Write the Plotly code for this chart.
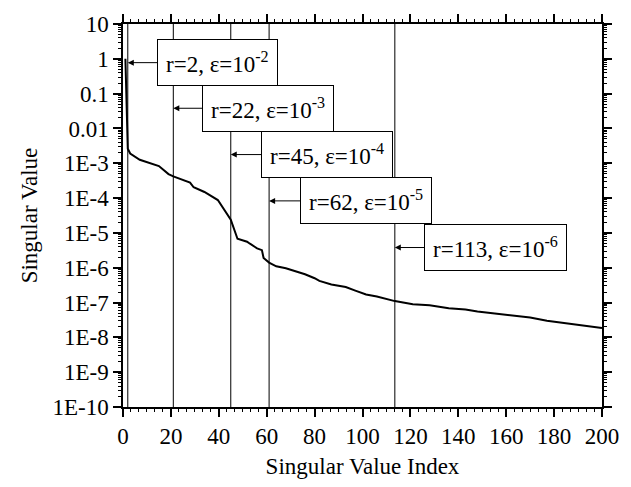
import plotly.graph_objects as go

# Singular value curve (index, value)
sv_index = [1, 2, 3, 7, 15, 19, 21, 28, 29.5, 34, 39.6, 45, 47.8, 51.8, 53, 56, 58, 58.7,
            61, 64, 68, 76, 80, 82, 87, 93, 97, 101.5, 106, 113.5, 121, 128, 136, 143,
            148, 159, 170, 177, 190.6, 200]
sv_value = [1.0, 2.6e-3, 1.9e-3, 1.26e-3, 8.3e-4, 4.9e-4, 4.2e-4, 2.8e-4, 2.05e-4, 1.5e-4,
            8.8e-5, 2.4e-5, 6.8e-6, 5.6e-6, 4.9e-6, 3.6e-6, 3.2e-6, 1.9e-6,
            1.4e-6, 1.1e-6, 9.6e-7, 6.5e-7, 5.0e-7, 4.2e-7, 3.3e-7, 2.8e-7, 2.2e-7, 1.7e-7,
            1.5e-7, 1.1e-7, 9.0e-8, 8.3e-8, 6.9e-8, 6.3e-8, 5.5e-8, 4.4e-8, 3.7e-8, 3.0e-8,
            2.2e-8, 1.85e-8]

# rank markers (vertical lines) and labels
rank_pos = [2, 21, 45, 61, 113.5]
rank_labels = ["r=2, ε=10<sup>-2</sup>", "r=22, ε=10<sup>-3</sup>", "r=45, ε=10<sup>-4</sup>",
               "r=62, ε=10<sup>-5</sup>", "r=113, ε=10<sup>-6</sup>"]
arrow_logy = [-0.11, -1.42, -2.75, -4.08, -5.42]
label_offset = [90, 95, 96, 97, 101]

# tick labels
x_tickvals = list(range(0, 201, 20))
y_tickvals = [10, 1, 0.1, 0.01, 1e-3, 1e-4, 1e-5, 1e-6, 1e-7, 1e-8, 1e-9, 1e-10]
y_ticktext = ["10", "1", "0.1", "0.01", "1E-3", "1E-4", "1E-5", "1E-6", "1E-7", "1E-8",
              "1E-9", "1E-10"]
# minor tick positions (axis decoration)
x_minor = [20 * i + 20 * k / 6 for i in range(10) for k in range(1, 6)]
y_minor = [k * 10.0 ** e for e in range(-10, 1) for k in range(2, 10)]

FONT = "Liberation Serif, Times New Roman, Times, serif"
TF = dict(family=FONT, size=23, color="black")

fig = go.Figure()
fig.add_trace(go.Scatter(x=sv_index, y=sv_value, mode="lines",
                         line=dict(color="black", width=2), showlegend=False,
                         hoverinfo="skip"))

for xp in rank_pos:
    fig.add_shape(type="line", xref="x", yref="paper", x0=xp, x1=xp, y0=0, y1=1,
                  line=dict(color="black", width=1))

for xp, lab, ly, off in zip(rank_pos, rank_labels, arrow_logy, label_offset):
    fig.add_annotation(x=xp, y=ly, xref="x", yref="y", text=lab, showarrow=True,
                       ax=off, ay=0, axref="pixel", ayref="pixel",
                       arrowhead=2, arrowsize=1.2, arrowwidth=1, arrowcolor="black",
                       font=TF, bordercolor="black", borderwidth=1, borderpad=8,
                       bgcolor="white")


def minor_x(side):
    return dict(range=[0, 200], tickvals=x_minor, ticks="outside", ticklen=4,
                tickwidth=1, tickcolor="black", mirror="ticks", showline=False,
                showgrid=False, zeroline=False, showticklabels=False,
                overlaying="x", anchor="y", side=side)


def minor_y(side):
    return dict(type="log", range=[-10, 1], tickvals=y_minor, ticks="outside", ticklen=4,
                tickwidth=1, tickcolor="black", mirror="ticks", showline=False,
                showgrid=False, zeroline=False, showticklabels=False,
                overlaying="y", anchor="x", side=side)


fig.update_layout(
    xaxis=dict(range=[0, 200], tickvals=x_tickvals, ticks="outside", ticklen=8,
               tickwidth=1.5, tickcolor="black", showline=True, linecolor="black",
               linewidth=1.5, mirror="ticks", showgrid=False, zeroline=False,
               tickfont=TF,
               title=dict(text="Singular Value Index", font=TF, standoff=10)),
    yaxis=dict(type="log", range=[-10, 1], tickvals=y_tickvals, ticktext=y_ticktext,
               ticks="outside", ticklen=8, tickwidth=1.5, tickcolor="black",
               showline=True, linecolor="black", linewidth=1.5, mirror="ticks",
               showgrid=False, zeroline=False, tickfont=TF,
               title=dict(text="Singular Value", font=TF, standoff=8)),
    xaxis2=minor_x("bottom"), yaxis2=minor_y("left"),
    xaxis3=minor_x("top"), yaxis3=minor_y("right"),
    width=631, height=487, margin=dict(l=123, r=18, t=18, b=73),
    plot_bgcolor="white", paper_bgcolor="white")

# traces spanning the axis ranges (no visible line) so the minor-tick axes are drawn
for xa, ya in [("x2", "y2"), ("x3", "y3")]:
    fig.add_trace(go.Scatter(x=[0, 200], y=[1e-10, 10], xaxis=xa, yaxis=ya,
                             mode="lines", line=dict(width=0, color="white"),
                             showlegend=False, hoverinfo="skip"))
fig.write_html("out.html")
